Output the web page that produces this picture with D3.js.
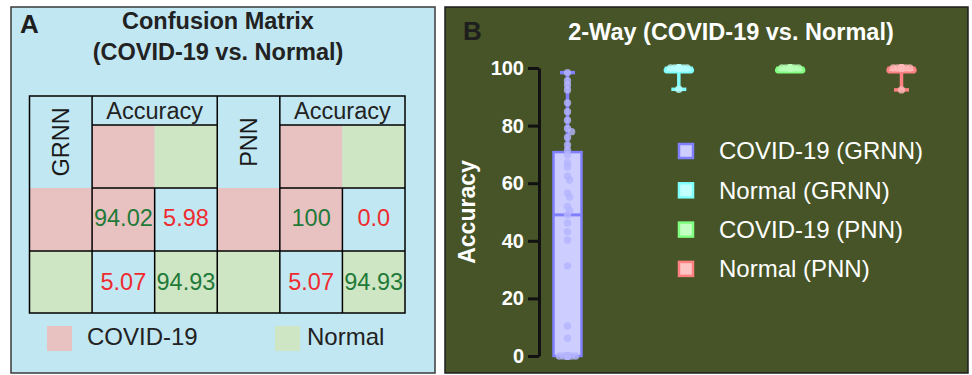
<!DOCTYPE html>
<html><head><meta charset="utf-8">
<script src="https://cdn.jsdelivr.net/npm/d3@7"></script>
<style>
body{margin:0;background:#fff;}
svg{display:block;font-family:"Liberation Sans",Arial,Helvetica,sans-serif;}
</style>
</head><body>
<svg id="chart" width="972" height="375"></svg>
<script>
// ---------- Panel A data ----------
const cmModels = ["GRNN", "PNN"];
const cmClasses = ["COVID-19", "Normal"];
const cmHeader = "Accuracy";
const cmGRNN = [[94.02, 5.98], [5.07, 94.93]];
const cmPNN = [[100, 0.0], [5.07, 94.93]];
const cmGRNNLabels = [["94.02", "5.98"], ["5.07", "94.93"]];
const cmPNNLabels = [["100", "0.0"], ["5.07", "94.93"]];
const titleA = ["Confusion Matrix", "(COVID-19 vs. Normal)"];

// ---------- Panel B data ----------
const titleB = "2-Way (COVID-19 vs. Normal)";
const seriesNames = ["COVID-19 (GRNN)", "Normal (GRNN)", "COVID-19 (PNN)", "Normal (PNN)"];
const boxMin = [0, 92.6, 100, 92.4];
const boxQ1 = [0, 98.5, 98.5, 98.5];
const boxMedian = [49, 100, 100, 100];
const boxQ3 = [70.8, 100, 100, 100];
const boxMax = [98.4, 100, 100, 100];
const ptsCovidGRNN = [98.4, 95.6, 94.1, 92.4, 87.9, 84.8, 81.9, 79.0, 77.9, 75.9, 73.3, 71.5, 69.8, 67.1, 65.6, 62.5, 61.1, 56.6, 55.2, 51.9, 50.5, 49.0, 46.2, 43.2, 40.3, 31.3, 10.4, 6.2, 0, 0, 0, 0, 0, 0, 0, 0, 0, 0, 0, 0, 0, 0, 0];
const ptsNormalGRNN = [100, 100, 100, 100, 100, 100, 100, 100, 100, 100, 100, 100, 92.6];
const ptsCovidPNN = [100, 100, 100, 100, 100, 100, 100, 100, 100, 100, 100, 100];
const ptsNormalPNN = [100, 100, 100, 100, 100, 100, 100, 100, 100, 100, 100, 100, 92.4];
const yTicks = [0, 20, 40, 60, 80, 100];
const yLabel = "Accuracy";

// ---------- styles ----------
const panelABg = "#c1e7f3", pinkC = "#e8c1c1", greenC = "#cfe6c4";
const valGreen = "#1f7a3a", valRed = "#ee2b2f";
const panelBBg = "#465427";
const strokeCols = ["#8080ff", "#80ffff", "#80ff80", "#ff8080"];
const fillCols = ["#cdcdff", "#c4ffff", "#c4ffc4", "#ffc4c4"];
const dotCols = ["#b4b4ff", "#b8ffff", "#b8ffb8", "#ffb8b8"];

const svg = d3.select("#chart");

// ================= Panel A =================
const gA = svg.append("g");
gA.append("rect").attr("x", 11).attr("y", 7).attr("width", 424).attr("height", 366)
  .attr("fill", panelABg).attr("stroke", "#3a3a3a").attr("stroke-width", 1.5);
gA.append("text").attr("x", 20).attr("y", 33).text("A")
  .attr("font-size", 26).attr("font-weight", "bold").attr("fill", "#1e1e1e");
gA.selectAll("text.ta").data(titleA).join("text").attr("class", "ta")
  .attr("x", 218).attr("y", (d, i) => 29 + i * 31).attr("text-anchor", "middle")
  .attr("font-size", 23.5).attr("font-weight", "bold").attr("fill", "#222").text(d => d);

const colX = d3.scaleBand().domain(d3.range(6)).range([29.5, 405]);
const rowEdges = [96, 125, 188, 251, 313];
const cw = colX.bandwidth();
const classColor = [pinkC, greenC];
const cells = [];
const texts = [];
cmModels.forEach((m, mi) => {
  const c0 = mi * 3;
  const vals = mi === 0 ? cmGRNN : cmPNN;
  const labs = mi === 0 ? cmGRNNLabels : cmPNNLabels;
  cells.push({c: c0, cs: 1, r: 0, rs: 2, fill: panelABg});
  cells.push({c: c0 + 1, cs: 2, r: 0, rs: 1, fill: panelABg});
  texts.push({c: c0 + 1, cs: 2, r: 0, rs: 1, t: cmHeader, col: "#222", dy: 0});
  texts.push({c: c0, cs: 1, r: 0, rs: 2, t: m, col: "#1a1a1a", rot: true});
  cmClasses.forEach((cl, k) => {
    cells.push({c: c0 + 1 + k, cs: 1, r: 1, rs: 1, fill: classColor[k]});
    cells.push({c: c0, cs: 1, r: 2 + k, rs: 1, fill: classColor[k]});
    cmClasses.forEach((cl2, j) => {
      const diag = k === j;
      cells.push({c: c0 + 1 + j, cs: 1, r: 2 + k, rs: 1, fill: diag ? classColor[k] : panelABg});
      texts.push({c: c0 + 1 + j, cs: 1, r: 2 + k, rs: 1, t: labs[k][j], v: vals[k][j],
        col: diag ? valGreen : valRed, dy: k === 0 ? -2 : 0});
    });
  });
});
gA.selectAll("rect.cell").data(cells).join("rect").attr("class", "cell")
  .attr("x", d => colX(d.c)).attr("y", d => rowEdges[d.r])
  .attr("width", d => cw * d.cs).attr("height", d => rowEdges[d.r + d.rs] - rowEdges[d.r])
  .attr("fill", d => d.fill);
gA.selectAll("text.ct").data(texts).join("text").attr("class", "ct")
  .attr("transform", d => {
    const cx = colX(d.c) + cw * d.cs / 2;
    const cy = (rowEdges[d.r] + rowEdges[d.r + d.rs]) / 2 + (d.dy || 0);
    return `translate(${cx},${cy})` + (d.rot ? " rotate(-90)" : "");
  })
  .attr("text-anchor", "middle").attr("dy", "0.35em")
  .attr("font-size", 23.5).attr("fill", d => d.col).text(d => d.t);

// grid lines
const xE = i => colX(i);
const xEnd = 29.5 + cw * 6;
const lines = [
  [xE(1), rowEdges[0], xE(1), rowEdges[4]],
  [xE(3), rowEdges[0], xE(3), rowEdges[4]],
  [xE(4), rowEdges[0], xE(4), rowEdges[4]],
  [xE(2), rowEdges[2], xE(2), rowEdges[4]],
  [xE(5), rowEdges[2], xE(5), rowEdges[4]],
  [xE(1), rowEdges[1], xE(3), rowEdges[1]],
  [xE(4), rowEdges[1], xEnd, rowEdges[1]],
  [xE(1), rowEdges[2], xE(3), rowEdges[2]],
  [xE(4), rowEdges[2], xEnd, rowEdges[2]],
  [xE(0), rowEdges[3], xEnd, rowEdges[3]]
];
gA.selectAll("line.gl").data(lines).join("line").attr("class", "gl")
  .attr("x1", d => d[0]).attr("y1", d => d[1]).attr("x2", d => d[2]).attr("y2", d => d[3])
  .attr("stroke", "#000").attr("stroke-width", 1.5);
gA.append("rect").attr("x", xE(0)).attr("y", rowEdges[0]).attr("width", cw * 6)
  .attr("height", rowEdges[4] - rowEdges[0]).attr("fill", "none").attr("stroke", "#000").attr("stroke-width", 1.5);

// legend A
const legA = gA.selectAll("g.la").data(cmClasses).join("g").attr("class", "la")
  .attr("transform", (d, i) => `translate(${47 + i * 228},326)`);
legA.append("rect").attr("width", 25).attr("height", 25).attr("fill", (d, i) => classColor[i]);
legA.append("text").attr("x", (d, i) => i === 0 ? 40 : 32).attr("y", 19)
  .attr("font-size", 24).attr("fill", "#222").text(d => d);

// ================= Panel B =================
const gB = svg.append("g");
gB.append("rect").attr("x", 445).attr("y", 7).attr("width", 523).attr("height", 366)
  .attr("fill", panelBBg).attr("stroke", "#1e1e1e").attr("stroke-width", 1.5);
gB.append("text").attr("x", 463).attr("y", 40).text("B")
  .attr("font-size", 26).attr("font-weight", "bold").attr("fill", "#1e1e1e");
gB.append("text").attr("x", 731).attr("y", 40).attr("text-anchor", "middle")
  .attr("font-size", 23.5).attr("font-weight", "bold").attr("fill", "#fff").text(titleB);

const y = d3.scaleLinear().domain([0, 100]).range([356, 68]);
const x = d3.scalePoint().domain(seriesNames).range([567.5, 901.5]);

const axG = gB.append("g").attr("transform", "translate(539,0)")
  .call(d3.axisLeft(y).tickValues(yTicks).tickSize(11).tickSizeOuter(0).tickPadding(4));
axG.select(".domain").attr("stroke", "#111").attr("stroke-width", 3);
axG.selectAll(".tick line").attr("stroke", "#111").attr("stroke-width", 3);
axG.selectAll(".tick text").attr("fill", "#fff").attr("font-size", 20).attr("font-weight", "bold")
  .attr("font-family", "'Liberation Sans',Arial,sans-serif");
gB.append("text").attr("transform", "translate(467,212) rotate(-90)").attr("text-anchor", "middle")
  .attr("dy", "0.35em").attr("font-size", 23).attr("font-weight", "bold").attr("fill", "#fff").text(yLabel);

const allPts = [ptsCovidGRNN, ptsNormalGRNN, ptsCovidPNN, ptsNormalPNN];
const boxW = 28, capW = 15, r = 3.7;

function dodge(vals, half) {
  const placed = [];
  return vals.map(v => {
    const py = y(v);
    let best = 0;
    const cands = [0];
    for (let k = 1; k <= 12; k++) { cands.push(k * 2.05, -k * 2.05); }
    for (const dx of cands) {
      if (Math.abs(dx) > half) continue;
      if (placed.every(p => Math.hypot(p.dx - dx, p.y - py) >= r * 1.1)) { best = dx; break; }
    }
    placed.push({dx: best, y: py});
    return {dx: best, y: py};
  });
}

seriesNames.forEach((s, i) => {
  const cx = x(s);
  const g = gB.append("g");
  const wh = [];
  if (boxMax[i] > boxQ3[i]) wh.push([boxQ3[i], boxMax[i]]);
  if (boxMin[i] < boxQ1[i]) wh.push([boxQ1[i], boxMin[i]]);
  wh.forEach(w => {
    g.append("line").attr("x1", cx).attr("x2", cx).attr("y1", y(w[0])).attr("y2", y(w[1]))
      .attr("stroke", strokeCols[i]).attr("stroke-width", 3.5);
    g.append("line").attr("x1", cx - capW / 2).attr("x2", cx + capW / 2).attr("y1", y(w[1])).attr("y2", y(w[1]))
      .attr("stroke", strokeCols[i]).attr("stroke-width", 3.5);
  });
  g.append("rect").attr("x", cx - boxW / 2).attr("y", y(boxQ3[i])).attr("width", boxW)
    .attr("height", Math.max(0, y(boxQ1[i]) - y(boxQ3[i])))
    .attr("rx", i === 0 ? 0 : 3)
    .attr("fill", fillCols[i]).attr("stroke", strokeCols[i]).attr("stroke-width", 2.5);
  g.append("line").attr("x1", cx - boxW / 2).attr("x2", cx + boxW / 2)
    .attr("y1", y(boxMedian[i])).attr("y2", y(boxMedian[i]))
    .attr("stroke", strokeCols[i]).attr("stroke-width", 3);
  const pos = dodge(allPts[i], boxW / 2 - 3.5);
  g.selectAll("circle").data(pos).join("circle")
    .attr("cx", d => cx + d.dx).attr("cy", d => d.y).attr("r", r)
    .attr("fill", dotCols[i]).attr("fill-opacity", 0.8);
});

// legend B
const legB = gB.selectAll("g.lb").data(seriesNames).join("g").attr("class", "lb")
  .attr("transform", (d, i) => `translate(679,${151 + i * 39.3})`);
legB.append("rect").attr("x", 0).attr("y", -7).attr("width", 14).attr("height", 14)
  .attr("fill", (d, i) => fillCols[i]).attr("stroke", (d, i) => strokeCols[i]).attr("stroke-width", 2.5);
legB.append("text").attr("x", 40).attr("y", 0).attr("dy", "0.35em")
  .attr("font-size", 24).attr("fill", "#fff").text(d => d);
</script>
</body></html>
